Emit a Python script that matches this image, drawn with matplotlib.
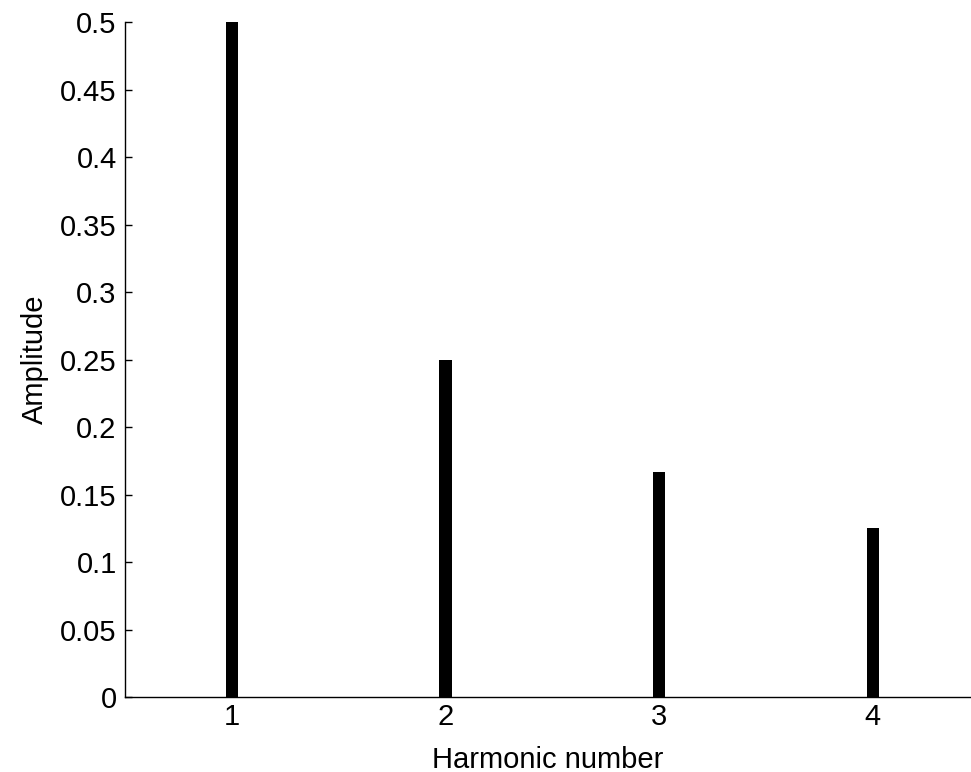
import matplotlib
matplotlib.use("Agg")
import matplotlib.pyplot as plt

plt.rcParams['font.family'] = ['Liberation Sans', 'DejaVu Sans']

harmonics = [1, 2, 3, 4]
amplitudes = [0.5, 0.25, 0.1667, 0.125]
yticks = [0, 0.05, 0.1, 0.15, 0.2, 0.25, 0.3, 0.35, 0.4, 0.45, 0.5]
ytick_labels = ['0', '0.05', '0.1', '0.15', '0.2', '0.25', '0.3', '0.35', '0.4', '0.45', '0.5']

fig = plt.figure(figsize=(9.71, 7.72), dpi=100)
ax = fig.add_axes([0.1287, 0.0972, 0.8713, 0.8737])

ax.bar(harmonics, amplitudes, width=0.057, color='black')

ax.set_xlim(0.5, 4.46)
ax.set_ylim(0, 0.5)
ax.set_xticks(harmonics)
ax.set_yticks(yticks)
ax.set_yticklabels(ytick_labels)

for s in ['top', 'right']:
    ax.spines[s].set_visible(False)
for s in ['left', 'bottom']:
    ax.spines[s].set_linewidth(1.0)

ax.tick_params(direction='in', length=5, width=1.0, labelsize=21, pad=6)
ax.tick_params(axis='x', pad=4)
ax.set_xlabel('Harmonic number', fontsize=21, labelpad=11)
ax.set_ylabel('Amplitude', fontsize=21, labelpad=8)

fig.savefig('out.png', dpi=100)
